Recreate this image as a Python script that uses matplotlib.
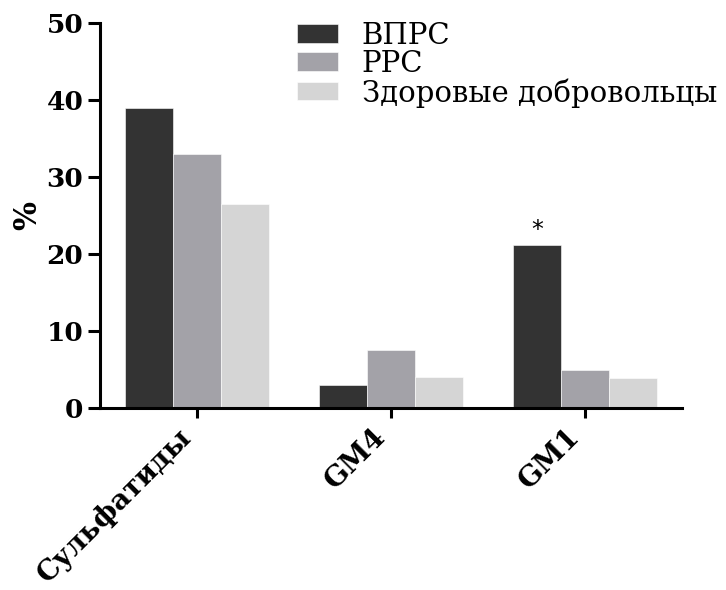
import numpy as np
import matplotlib
matplotlib.use('Agg')
import matplotlib.pyplot as plt

# share of patients with antibodies, %
groups = ['Сульфатиды', 'GM4', 'GM1']
series = ['ВПРС', 'РРС', 'Здоровые добровольцы']
vprs    = [39.0, 3.0, 21.2]
rrs     = [33.0, 7.5, 4.9]
healthy = [26.5, 4.0, 3.9]
colors  = ['#333333', '#a3a2a8', '#d5d5d5']

plt.rcParams['font.family'] = ['DejaVu Serif']

fig = plt.figure(figsize=(7.26, 5.9), dpi=100)
ax = fig.add_axes([100/726, 182/590, 582/726, 385/590])

x = np.arange(len(groups))
w = 0.248
for i, (vals, name, c) in enumerate(zip([vprs, rrs, healthy], series, colors)):
    ax.bar(x + (i - 1)*w, vals, width=w, color=c, label=name,
           edgecolor='white', linewidth=0.4)

# significance mark above GM1 / ВПРС
ax.annotate('*', xy=(x[2] - w, vprs[2]), xytext=(0, 2), textcoords='offset points',
            ha='center', va='bottom', fontsize=17, family='DejaVu Sans')

ax.set_xlim(-0.5, 2.5)
ax.set_ylim(0, 50)
ax.set_yticks([0, 10, 20, 30, 40, 50])
ax.set_xticks(x)
ax.set_xticklabels(groups, rotation=45, ha='right', fontweight='bold', fontsize=20)
for lab in ax.get_yticklabels():
    lab.set_fontweight('bold')
    lab.set_fontsize(19)

for s in ['top', 'right']:
    ax.spines[s].set_visible(False)
for s in ['left', 'bottom']:
    ax.spines[s].set_linewidth(2.2)
ax.tick_params(axis='y', length=9, width=2.2, pad=3)
ax.tick_params(axis='x', length=7, width=2.2, pad=4)

ax.set_ylabel('%', fontsize=22, fontweight='bold')
ax.yaxis.set_label_coords(-0.097, 0.5)

leg = ax.legend(loc='upper left', bbox_to_anchor=(297/726, 1 - 22/590),
                bbox_transform=fig.transFigure, frameon=False, fontsize=21,
                borderpad=0, borderaxespad=0, handlelength=1.4, handleheight=0.6,
                handletextpad=0.82, labelspacing=0.0)

fig.savefig('out.png', dpi=100)
